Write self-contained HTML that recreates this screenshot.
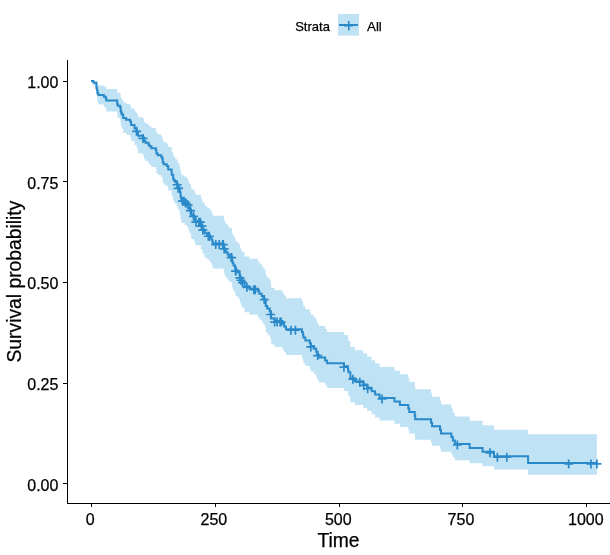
<!DOCTYPE html>
<html><head><meta charset="utf-8">
<style>
html,body{margin:0;padding:0;background:#fff;}
body{width:610px;height:555px;overflow:hidden;}
svg{display:block;will-change:transform;}
text{font-family:"Liberation Sans", sans-serif;fill:#000;stroke:#000;stroke-width:0.25px;}
</style></head><body>
<svg width="610" height="555" viewBox="0 0 610 555">
<rect width="610" height="555" fill="#fff"/>
<path d="M91.00,81.00L93.47,81.00L93.47,81.00L96.44,81.00L96.44,81.14L96.94,81.14L96.94,82.10L97.44,82.10L97.44,84.24L98.42,84.24L98.42,85.38L103.87,85.38L103.87,86.57L105.85,86.57L105.85,87.80L106.34,87.80L106.34,89.05L117.23,89.05L117.23,91.63L117.73,91.63L117.73,92.95L120.20,92.95L120.20,94.29L120.70,94.29L120.70,97.01L121.19,97.01L121.19,98.40L121.69,98.40L121.69,99.79L123.17,99.79L123.17,102.62L126.15,102.62L126.15,104.05L130.10,104.05L130.10,105.49L131.09,105.49L131.09,108.40L134.56,108.40L134.56,111.34L136.54,111.34L136.54,112.82L137.03,112.82L137.03,114.31L138.03,114.31L138.03,117.32L142.97,117.32L142.97,118.84L143.97,118.84L143.97,121.89L145.45,121.89L145.45,123.43L148.42,123.43L148.42,124.98L149.41,124.98L149.41,126.52L151.39,126.52L151.39,128.08L155.84,128.08L155.84,129.64L156.34,129.64L156.34,132.77L157.82,132.77L157.82,134.34L161.29,134.34L161.29,135.92L162.28,135.92L162.28,137.50L162.78,137.50L162.78,140.68L163.76,140.68L163.76,142.27L166.74,142.27L166.74,143.87L168.22,143.87L168.22,147.08L171.69,147.08L171.69,151.91L173.17,151.91L173.17,155.16L173.67,155.16L173.67,156.78L175.15,156.78L175.15,158.41L176.63,158.41L176.63,160.05L177.62,160.05L177.62,163.34L179.61,163.34L179.61,166.69L180.10,166.69L180.10,168.37L180.59,168.37L180.59,171.75L181.09,171.75L181.09,173.44L181.58,173.44L181.58,175.13L184.56,175.13L184.56,176.86L187.03,176.86L187.03,178.60L188.51,178.60L188.51,182.13L189.50,182.13L189.50,183.89L190.99,183.89L190.99,187.48L191.49,187.48L191.49,189.27L193.96,189.27L193.96,191.09L194.95,191.09L194.95,192.90L195.44,192.90L195.44,194.72L200.89,194.72L200.89,198.43L202.38,198.43L202.38,202.21L204.36,202.21L204.36,204.12L204.85,204.12L204.85,206.03L207.32,206.03L207.32,207.94L209.80,207.94L209.80,209.90L211.28,209.90L211.28,211.86L212.28,211.86L212.28,213.82L212.77,213.82L212.77,215.79L223.66,215.79L223.66,217.82L224.16,217.82L224.16,219.85L224.65,219.85L224.65,221.91L225.64,221.91L225.64,223.97L227.62,223.97L227.62,226.03L229.10,226.03L229.10,228.10L232.07,228.10L232.07,232.34L232.57,232.34L232.57,234.47L233.56,234.47L233.56,236.61L235.04,236.61L235.04,238.75L235.54,238.75L235.54,240.89L237.52,240.89L237.52,243.08L239.50,243.08L239.50,245.27L240.00,245.27L240.00,247.47L240.98,247.47L240.98,249.69L241.97,249.69L241.97,251.94L244.45,251.94L244.45,256.49L249.40,256.49L249.40,258.80L257.81,258.80L257.81,261.16L259.30,261.16L259.30,263.52L261.77,263.52L261.77,265.89L263.26,265.89L263.26,268.27L264.75,268.27L264.75,270.68L265.74,270.68L265.74,275.52L267.22,275.52L267.22,277.95L269.69,277.95L269.69,280.38L270.69,280.38L270.69,282.82L271.18,282.82L271.18,287.78L274.64,287.78L274.64,290.27L282.56,290.27L282.56,292.90L284.05,292.90L284.05,295.53L286.03,295.53L286.03,298.18L301.87,298.18L301.87,300.90L302.86,300.90L302.86,303.64L303.36,303.64L303.36,306.39L305.34,306.39L305.34,309.14L309.79,309.14L309.79,311.91L310.78,311.91L310.78,314.68L313.75,314.68L313.75,317.51L316.23,317.51L316.23,320.35L317.22,320.35L317.22,323.20L318.70,323.20L318.70,326.11L325.13,326.11L325.13,329.04L327.12,329.04L327.12,331.97L343.94,331.97L343.94,334.92L347.90,334.92L347.90,337.94L348.40,337.94L348.40,340.97L350.38,340.97L350.38,347.07L354.83,347.07L354.83,350.20L363.25,350.20L363.25,353.43L367.21,353.43L367.21,356.75L371.67,356.75L371.67,360.17L375.13,360.17L375.13,363.62L379.58,363.62L379.58,367.09L394.44,367.09L394.44,370.69L399.88,370.69L399.88,374.31L408.30,374.31L408.30,377.97L409.29,377.97L409.29,381.66L414.73,381.66L414.73,385.38L415.23,385.38L415.23,389.14L431.06,389.14L431.06,392.93L432.06,392.93L432.06,396.76L439.98,396.76L439.98,400.62L440.96,400.62L440.96,404.53L451.36,404.53L451.36,408.48L452.84,408.48L452.84,412.47L454.82,412.47L454.82,416.52L469.68,416.52L469.68,420.81L482.55,420.81L482.55,425.18L493.93,425.18L493.93,429.85L528.09,429.85L528.09,434.17L596.89,434.17L596.89,474.77L528.09,474.77L528.09,469.56L493.93,469.56L493.93,466.18L482.55,466.18L482.55,463.21L469.68,463.21L469.68,460.14L454.82,460.14L454.82,457.36L452.84,457.36L452.84,454.52L451.36,454.52L451.36,451.63L440.96,451.63L440.96,448.69L439.98,448.69L439.98,445.72L432.06,445.72L432.06,442.70L431.06,442.70L431.06,439.65L415.23,439.65L415.23,436.55L414.73,436.55L414.73,433.43L409.29,433.43L409.29,430.26L408.30,430.26L408.30,427.07L399.88,427.07L399.88,423.84L394.44,423.84L394.44,420.59L379.58,420.59L379.58,417.46L375.13,417.46L375.13,414.30L371.67,414.30L371.67,411.12L367.21,411.12L367.21,408.05L363.25,408.05L363.25,405.08L354.83,405.08L354.83,402.19L350.38,402.19L350.38,396.57L348.40,396.57L348.40,393.74L347.90,393.74L347.90,390.90L343.94,390.90L343.94,388.12L327.12,388.12L327.12,385.33L325.13,385.33L325.13,382.54L318.70,382.54L318.70,379.72L317.22,379.72L317.22,376.98L316.23,376.98L316.23,374.22L313.75,374.22L313.75,371.44L310.78,371.44L310.78,368.73L309.79,368.73L309.79,366.00L305.34,366.00L305.34,363.27L303.36,363.27L303.36,360.52L302.86,360.52L302.86,357.77L301.87,357.77L301.87,355.00L286.03,355.00L286.03,352.34L284.05,352.34L284.05,349.67L282.56,349.67L282.56,346.99L274.64,346.99L274.64,344.50L271.18,344.50L271.18,339.49L270.69,339.49L270.69,337.02L269.69,337.02L269.69,334.54L267.22,334.54L267.22,332.06L265.74,332.06L265.74,327.07L264.75,327.07L264.75,324.56L263.26,324.56L263.26,322.09L261.77,322.09L261.77,319.62L259.30,319.62L259.30,317.13L257.81,317.13L257.81,314.64L249.40,314.64L249.40,312.22L244.45,312.22L244.45,307.42L241.97,307.42L241.97,305.04L240.98,305.04L240.98,302.69L240.00,302.69L240.00,300.36L239.50,300.36L239.50,298.03L237.52,298.03L237.52,295.70L235.54,295.70L235.54,293.41L235.04,293.41L235.04,291.12L233.56,291.12L233.56,288.83L232.57,288.83L232.57,286.53L232.07,286.53L232.07,281.92L229.10,281.92L229.10,279.68L227.62,279.68L227.62,277.44L225.64,277.44L225.64,275.20L224.65,275.20L224.65,272.95L224.16,272.95L224.16,270.72L223.66,270.72L223.66,268.48L212.77,268.48L212.77,266.33L212.28,266.33L212.28,264.18L211.28,264.18L211.28,262.02L209.80,262.02L209.80,259.85L207.32,259.85L207.32,257.75L204.85,257.75L204.85,255.64L204.36,255.64L204.36,253.52L202.38,253.52L202.38,249.32L200.89,249.32L200.89,245.18L195.44,245.18L195.44,243.16L194.95,243.16L194.95,241.13L193.96,241.13L193.96,239.10L191.49,239.10L191.49,237.08L190.99,237.08L190.99,233.04L189.50,233.04L189.50,231.04L188.51,231.04L188.51,227.04L187.03,227.04L187.03,225.05L184.56,225.05L184.56,223.09L181.58,223.09L181.58,221.17L181.09,221.17L181.09,219.24L180.59,219.24L180.59,215.38L180.10,215.38L180.10,213.44L179.61,213.44L179.61,209.56L177.62,209.56L177.62,205.74L176.63,205.74L176.63,203.85L175.15,203.85L175.15,201.94L173.67,201.94L173.67,200.04L173.17,200.04L173.17,196.22L171.69,196.22L171.69,190.46L168.22,190.46L168.22,186.60L166.74,186.60L166.74,184.67L163.76,184.67L163.76,182.73L162.78,182.73L162.78,178.84L162.28,178.84L162.28,176.89L161.29,176.89L161.29,174.94L157.82,174.94L157.82,172.98L156.34,172.98L156.34,169.05L155.84,169.05L155.84,167.07L151.39,167.07L151.39,165.10L149.41,165.10L149.41,163.11L148.42,163.11L148.42,161.12L145.45,161.12L145.45,159.13L143.97,159.13L143.97,155.13L142.97,155.13L142.97,153.13L138.03,153.13L138.03,149.11L137.03,149.11L137.03,147.09L136.54,147.09L136.54,145.07L134.56,145.07L134.56,141.02L131.09,141.02L131.09,136.93L130.10,136.93L130.10,134.87L126.15,134.87L126.15,132.81L123.17,132.81L123.17,128.64L121.69,128.64L121.69,126.54L121.19,126.54L121.19,124.43L120.70,124.43L120.70,120.16L120.20,120.16L120.20,118.01L117.73,118.01L117.73,115.83L117.23,115.83L117.23,111.41L106.34,111.41L106.34,109.17L105.85,109.17L105.85,106.90L103.87,106.90L103.87,104.59L98.42,104.59L98.42,102.24L97.44,102.24L97.44,97.38L96.94,97.38L96.94,94.84L96.44,94.84L96.44,86.20L93.47,86.20L93.47,81.00L91.00,81.00Z" fill="#c0e2f5" stroke="none"/>
<path d="M91.00,81.00H93.47V82.76H96.44V88.05H96.94V89.82H97.44V93.34H98.42V95.11H103.87V96.87H105.85V98.63H106.34V100.39H117.23V103.92H117.73V105.68H120.20V107.45H120.70V110.97H121.19V112.74H121.69V114.50H123.17V118.03H126.15V119.79H130.10V121.55H131.09V125.08H134.56V128.61H136.54V130.37H137.03V132.14H138.03V135.68H142.97V137.46H143.97V141.02H145.45V142.80H148.42V144.58H149.41V146.36H151.39V148.14H155.84V149.92H156.34V153.49H157.82V155.27H161.29V157.05H162.28V158.83H162.78V162.39H163.76V164.17H166.74V165.95H168.22V169.52H171.69V174.86H173.17V178.42H173.67V180.20H175.15V181.99H176.63V183.77H177.62V187.35H179.61V191.00H180.10V192.83H180.59V196.48H181.09V198.30H181.58V200.13H184.56V201.99H187.03V203.87H188.51V207.67H189.50V209.57H190.99V213.42H191.49V215.35H193.96V217.28H194.95V219.22H195.44V221.16H200.89V225.13H202.38V229.16H204.36V231.19H204.85V233.22H207.32V235.25H209.80V237.33H211.28V239.42H212.28V241.50H212.77V243.58H223.66V245.74H224.16V247.89H224.65V250.07H225.64V252.25H227.62V254.42H229.10V256.60H232.07V261.08H232.57V263.33H233.56V265.57H235.04V267.81H235.54V270.05H237.52V272.34H239.50V274.63H240.00V276.92H240.98V279.24H241.97V281.58H244.45V286.32H249.40V288.72H257.81V291.18H259.30V293.63H261.77V296.09H263.26V298.55H264.75V301.05H265.74V306.03H267.22V308.52H269.69V311.02H270.69V313.51H271.18V318.57H274.64V321.10H282.56V323.80H284.05V326.49H286.03V329.19H301.87V331.99H302.86V334.79H303.36V337.58H305.34V340.38H309.79V343.18H310.78V345.97H313.75V348.83H316.23V351.68H317.22V354.54H318.70V357.46H325.13V360.38H327.12V363.29H343.94V366.21H347.90V369.21H348.40V372.20H350.38V378.19H354.83V381.27H363.25V384.45H367.21V387.74H371.67V391.14H375.13V394.54H379.58V397.95H394.44V401.49H399.88V405.03H408.30V408.58H409.29V412.12H414.73V415.67H415.23V419.21H431.06V422.75H432.06V426.30H439.98V429.84H440.96V433.38H451.36V436.93H452.84V440.47H454.82V444.02H469.68V447.91H482.55V451.81H493.93V456.27H528.09V462.95H596.89" fill="none" stroke="#2a89c9" stroke-width="2" stroke-linejoin="miter" stroke-linecap="butt"/>
<path d="M132.04,131.37H141.04M136.54,126.87V135.87M138.47,138.46H147.47M142.97,133.96V142.96M172.63,184.77H181.63M177.13,180.27V189.27M173.62,188.35H182.62M178.12,183.85V192.85M174.12,188.35H183.12M178.62,183.85V192.85M174.12,188.35H183.12M178.62,183.85V192.85M178.07,201.13H187.07M182.57,196.63V205.63M178.57,201.13H187.57M183.07,196.63V205.63M179.56,201.13H188.56M184.06,196.63V205.63M181.05,202.99H190.05M185.55,198.49V207.49M181.54,202.99H190.54M186.04,198.49V207.49M183.52,204.87H192.52M188.02,200.37V209.37M186.00,210.57H195.00M190.50,206.07V215.07M186.00,210.57H195.00M190.50,206.07V215.07M188.97,216.35H197.97M193.47,211.85V220.85M191.44,222.16H200.44M195.94,217.66V226.66M194.41,222.16H203.41M198.91,217.66V226.66M195.89,222.16H204.89M200.39,217.66V226.66M196.88,226.13H205.88M201.38,221.63V230.63M197.38,226.13H206.38M201.88,221.63V230.63M198.37,230.16H207.37M202.87,225.66V234.66M203.81,236.25H212.81M208.31,231.75V240.75M204.81,236.25H213.81M209.31,231.75V240.75M204.81,236.25H213.81M209.31,231.75V240.75M211.24,244.58H220.24M215.74,240.08V249.08M214.71,244.58H223.71M219.21,240.08V249.08M218.17,244.58H227.17M222.67,240.08V249.08M218.66,244.58H227.66M223.16,240.08V249.08M219.66,248.89H228.66M224.16,244.39V253.39M226.59,257.60H235.59M231.09,253.10V262.10M227.08,257.60H236.08M231.58,253.10V262.10M227.08,257.60H236.08M231.58,253.10V262.10M231.04,271.05H240.04M235.54,266.55V275.55M231.53,271.05H240.53M236.03,266.55V275.55M235.50,277.92H244.50M240.00,273.42V282.42M236.48,280.24H245.48M240.98,275.74V284.74M237.97,282.58H246.97M242.47,278.08V287.08M242.43,287.32H251.43M246.93,282.82V291.82M249.35,289.72H258.36M253.85,285.22V294.22M250.84,289.72H259.84M255.34,285.22V294.22M259.75,299.55H268.75M264.25,295.05V304.05M266.19,314.51H275.19M270.69,310.01V319.01M270.14,322.10H279.14M274.64,317.60V326.60M272.62,322.10H281.62M277.12,317.60V326.60M275.59,322.10H284.59M280.09,317.60V326.60M276.58,322.10H285.58M281.08,317.60V326.60M286.48,330.19H295.48M290.98,325.69V334.69M290.94,330.19H299.94M295.44,325.69V334.69M306.28,346.97H315.28M310.78,342.47V351.47M313.21,355.54H322.21M317.71,351.04V360.04M339.44,367.21H348.44M343.94,362.71V371.71M348.36,379.19H357.36M352.86,374.69V383.69M355.29,382.27H364.29M359.79,377.77V386.77M359.25,385.45H368.25M363.75,380.95V389.95M363.20,388.74H372.20M367.70,384.24V393.24M377.56,398.95H386.56M382.06,394.45V403.45M452.80,445.02H461.80M457.30,440.52V449.52M485.47,452.81H494.47M489.97,448.31V457.31M492.89,457.27H501.89M497.39,452.77V461.77M502.30,457.27H511.30M506.80,452.77V461.77M564.17,463.95H573.17M568.67,459.45V468.45M586.45,463.95H595.45M590.95,459.45V468.45M592.39,463.95H601.39M596.89,459.45V468.45" fill="none" stroke="#2a89c9" stroke-width="1.7"/>
<g stroke="#000" stroke-width="1" fill="none" shape-rendering="crispEdges">
<path d="M67,503.5H610M67.5,60V504"/>
<path d="M63,81.5H67M63,181.5H67M63,282.5H67M63,383.5H67M63,483.5H67"/>
<path d="M91.5,504V507M215.5,504V507M339.5,504V507M462.5,504V507M586.5,504V507"/>
</g>
<g font-size="16">
<text x="58.4" y="87.7" text-anchor="end">1.00</text>
<text x="58.4" y="188.7" text-anchor="end">0.75</text>
<text x="58.4" y="288.7" text-anchor="end">0.50</text>
<text x="58.4" y="389.7" text-anchor="end">0.25</text>
<text x="58.4" y="490.7" text-anchor="end">0.00</text>
<text x="90.15" y="524.6" text-anchor="middle">0</text>
<text x="213.9" y="524.6" text-anchor="middle">250</text>
<text x="338.25" y="524.6" text-anchor="middle">500</text>
<text x="460.95" y="524.6" text-anchor="middle">750</text>
<text x="585.85" y="524.6" text-anchor="middle">1000</text>
</g>
<text x="338.5" y="546.6" font-size="19.3" text-anchor="middle">Time</text>
<text transform="translate(20.6,281.6) rotate(-90)" font-size="19.3" text-anchor="middle">Survival probability</text>
<g font-size="13.33">
<text x="295.2" y="30.6" font-size="13">Strata</text>
<text x="367" y="30.6">All</text>
</g>
<rect x="338" y="14" width="21" height="21.6" fill="#c0e2f5"/>
<path d="M339,25H358" stroke="#2a89c9" stroke-width="2" fill="none"/>
<path d="M344,25.8H353M348.8,21.1V30.6" stroke="#2a89c9" stroke-width="1.6" fill="none"/>
</svg>
</body></html>
